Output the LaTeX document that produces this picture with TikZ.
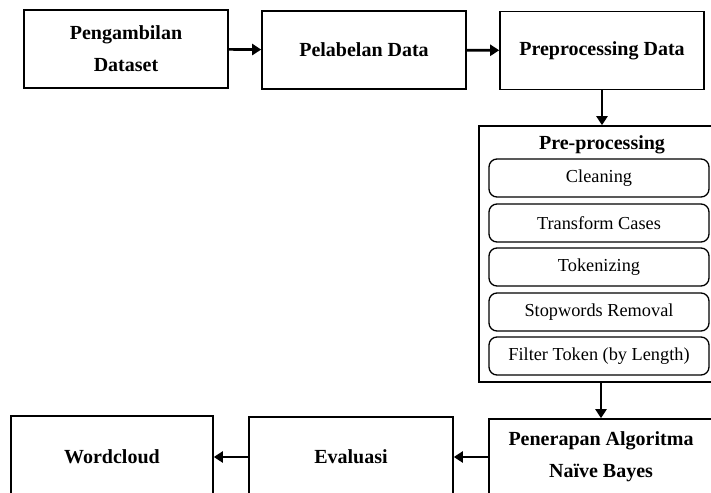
\documentclass[tikz,border=0pt]{standalone}
\usepackage{fontspec}
\setmainfont{Liberation Serif}
\usetikzlibrary{arrows.meta,positioning,calc}

\begin{document}
\begin{tikzpicture}[x=10pt, y=-10pt]
    \tikzstyle{tahap} = [rectangle, draw, line width=1.6pt, minimum width=204pt, minimum height=78pt, align=center, font=\bfseries\fontsize{20}{32}\selectfont]
    \tikzstyle{langkah} = [rectangle, draw, rounded corners=8pt, line width=1.3pt, minimum width=220pt, minimum height=38pt, font=\fontsize{18.3}{22}\selectfont]
    \tikzstyle{panah} = [line width=2.6pt, -{Triangle[length=9pt, width=11pt]}]

    \useasboundingbox (0,0) rectangle (71.1,49.2);

    % Tahapan atas
    \node[tahap] (ambil) at (12.6,4.9) {Pengambilan\\Dataset};
    \node[tahap] (label) at (36.4,5.0) {Pelabelan Data};
    \node[tahap] (prep) at (60.2,5.05) {Preprocessing Data};

    % Kotak pre-processing
    \node[rectangle, draw, line width=1.6pt, minimum width=237pt, minimum height=256pt] (pre) at (59.75,25.4) {};
    \node[font=\bfseries\fontsize{20}{24}\selectfont] (judul) at (60.2,14.5) {Pre-processing};
    \node[langkah] (clean) at (59.9,17.8) {Cleaning};
    \node[langkah] (case) at (59.9,22.3) {Transform Cases};
    \node[langkah] (token) at (59.9,26.7) {Tokenizing};
    \node[langkah] (stop) at (59.9,31.2) {Stopwords Removal};
    \node[langkah] (filter) at (59.9,35.6) {Filter Token (by Length)};

    % Tahapan bawah
    \node[tahap, minimum width=224pt, minimum height=76pt] (nb) at (60.1,45.7) {Penerapan Algoritma\\Naïve Bayes};
    \node[tahap, minimum height=80pt] (eval) at (35.1,45.7) {Evaluasi};
    \node[tahap, minimum width=202pt, minimum height=82pt] (word) at (11.2,45.7) {Wordcloud};

    % Panah
    \draw[panah] (ambil) -- (label);
    \draw[panah] (label) -- (prep);
    \draw[panah] (prep.south) -- (prep.south |- pre.north);
    \draw[panah] (nb.north |- pre.south) -- (nb.north);
    \draw[panah] (nb) -- (eval);
    \draw[panah] (eval) -- (word);
\end{tikzpicture}
\end{document}
